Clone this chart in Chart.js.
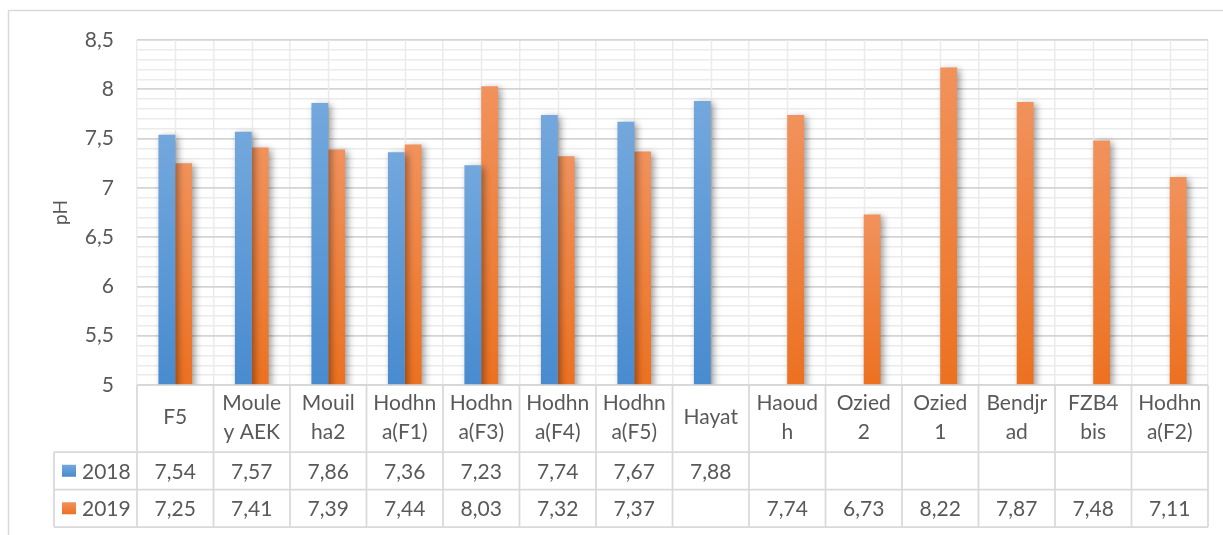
<!DOCTYPE html>
<html>
<head>
<meta charset="utf-8">
<title>pH 2018 / 2019</title>
<script src="https://cdn.jsdelivr.net/npm/chart.js@4/dist/chart.umd.min.js"></script>
<style>
  html, body { margin: 0; padding: 0; background: #ffffff; }
  #wrap { position: relative; width: 1223px; height: 535px; }
</style>
</head>
<body>
<div id="wrap"><canvas id="phChart"></canvas></div>
<script>
// Sampling points
const categories = ['F5', 'Mouley AEK', 'Mouilha2', 'Hodhna(F1)', 'Hodhna(F3)', 'Hodhna(F4)', 'Hodhna(F5)',
                    'Hayat', 'Haoudh', 'Ozied 2', 'Ozied 1', 'Bendjrad', 'FZB4 bis', 'Hodhna(F2)'];
// Wrapped names shown in the header row of the data table
const tickLabels = [['F5'], ['Moule', 'y AEK'], ['Mouil', 'ha2'], ['Hodhn', 'a(F1)'], ['Hodhn', 'a(F3)'],
                    ['Hodhn', 'a(F4)'], ['Hodhn', 'a(F5)'], ['Hayat'], ['Haoud', 'h'], ['Ozied', '2'],
                    ['Ozied', '1'], ['Bendjr', 'ad'], ['FZB4', 'bis'], ['Hodhn', 'a(F2)']];
const seriesNames = ['2018', '2019'];
const ph2018 = [7.54, 7.57, 7.86, 7.36, 7.23, 7.74, 7.67, 7.88, null, null, null, null, null, null];
const ph2019 = [7.25, 7.41, 7.39, 7.44, 8.03, 7.32, 7.37, null, 7.74, 6.73, 8.22, 7.87, 7.48, 7.11];
// Value axis
const yMin = 5, yMax = 8.5, yMajorStep = 0.5, yMinorStep = 0.1;
const yTitle = 'pH';

const FONT = 'Lato, "Open Sans", sans-serif';
const TEXT = '#595959';
const TABLE_FONT_SIZE = 21;
const HEADER_H = 67;
const ROW_H = 37.5;
const LEGEND_COL_W = 83;

const fmt = v => String(Math.round(v * 100) / 100).replace('.', ',');
const isMajor = v => Math.abs(v / yMajorStep - Math.round(v / yMajorStep)) < 1e-6;

// Vertical gradient per bar, lighter at the top
function barFill(topColor, bottomColor) {
  return (ctx) => {
    const chart = ctx.chart;
    const y = chart.scales && chart.scales.y;
    if (ctx.type !== 'data' || !y || ctx.raw == null) return bottomColor;
    const yTop = y.getPixelForValue(ctx.raw);
    const yBase = y.getPixelForValue(y.min);
    if (!isFinite(yTop) || !isFinite(yBase) || yTop === yBase) return bottomColor;
    const g = chart.ctx.createLinearGradient(0, yTop, 0, yBase);
    g.addColorStop(0, topColor);
    g.addColorStop(1, bottomColor);
    return g;
  };
}

const palette = [
  { top: 'rgb(115,168,221)', bottom: 'rgb(72,139,207)' },
  { top: 'rgb(241,146,92)',  bottom: 'rgb(236,113,32)' }
];

const tablePlugin = {
  id: 'dataTable',
  beforeDraw(chart) {
    const c = chart.ctx;
    c.save();
    c.fillStyle = '#ffffff';
    c.fillRect(0, 0, chart.width, chart.height);
    c.strokeStyle = '#d9d9d9';
    c.lineWidth = 1.5;
    c.strokeRect(8.5, 10.5, chart.width + 20, chart.height + 20);
    c.restore();
  },
  beforeDatasetsDraw(chart) {
    const c = chart.ctx, x = chart.scales.x, area = chart.chartArea;
    // light lines through the middle of each category
    c.save();
    c.strokeStyle = '#ebebeb';
    c.lineWidth = 1.5;
    categories.forEach((_, i) => {
      const px = Math.round(x.getPixelForValue(i)) + 0.5;
      c.beginPath();
      c.moveTo(px, area.top);
      c.lineTo(px, area.bottom);
      c.stroke();
    });
    c.restore();
    // soft drop shadow under the bars
    c.save();
    c.shadowColor = 'rgba(0,0,0,0.38)';
    c.shadowBlur = 7;
    c.shadowOffsetX = 3;
    c.shadowOffsetY = 2;
  },
  afterDatasetsDraw(chart) {
    chart.ctx.restore();
  },
  afterDraw(chart) {
    const c = chart.ctx, x = chart.scales.x;
    const top = x.top;
    const r1 = top + HEADER_H, r2 = r1 + ROW_H, r3 = r2 + ROW_H;
    const left = x.left, right = x.right;
    const legendLeft = left - LEGEND_COL_W;
    const n = categories.length;
    const cw = (right - left) / n;

    c.save();
    c.strokeStyle = '#d9d9d9';
    c.lineWidth = 1.75;
    const line = (x1, y1, x2, y2) => { c.beginPath(); c.moveTo(x1, y1); c.lineTo(x2, y2); c.stroke(); };
    line(left, top, right, top);
    [r1, r2, r3].forEach(yy => line(legendLeft, yy, right, yy));
    for (let i = 0; i <= n; i++) line(left + i * cw, top, left + i * cw, r3);
    line(legendLeft, r1, legendLeft, r3);

    // series keys and values
    c.font = TABLE_FONT_SIZE + 'px ' + FONT;
    c.textBaseline = 'middle';
    chart.data.datasets.forEach((ds, k) => {
      const cy = (k === 0 ? r1 : r2) + ROW_H / 2;
      const g = c.createLinearGradient(0, cy - 6, 0, cy + 6);
      g.addColorStop(0, palette[k].top);
      g.addColorStop(1, palette[k].bottom);
      c.fillStyle = g;
      c.fillRect(legendLeft + 8, cy - 6, 14, 12);
      c.fillStyle = TEXT;
      c.textAlign = 'left';
      c.fillText(ds.label, legendLeft + 28, cy + 1);
      c.textAlign = 'center';
      ds.data.forEach((v, i) => {
        if (v == null) return;
        c.fillText(fmt(v), x.getPixelForValue(i), cy + 1);
      });
    });
    c.restore();
  }
};

new Chart(document.getElementById('phChart'), {
  type: 'bar',
  data: {
    labels: tickLabels,
    datasets: [
      { label: seriesNames[0], data: ph2018, backgroundColor: barFill(palette[0].top, palette[0].bottom) },
      { label: seriesNames[1], data: ph2019, backgroundColor: barFill(palette[1].top, palette[1].bottom) }
    ]
  },
  options: {
    responsive: true,
    maintainAspectRatio: false,
    animation: false,
    datasets: { bar: { categoryPercentage: 0.44, barPercentage: 1, borderWidth: 0 } },
    layout: { padding: { left: 40, top: 40, right: 15, bottom: 8 } },
    plugins: { legend: { display: false }, tooltip: { enabled: false } },
    scales: {
      x: {
        offset: true,
        border: { display: false },
        grid: { offset: true, drawTicks: false, color: '#ebebeb', lineWidth: 1.5 },
        ticks: {
          autoSkip: false, maxRotation: 0, minRotation: 0, crossAlign: 'center',
          padding: 18, color: TEXT,
          font: { family: FONT, size: TABLE_FONT_SIZE, lineHeight: 1.4 }
        },
        afterFit(scale) {
          scale.height = HEADER_H + 2 * ROW_H;
          scale.paddingLeft = 0;
          scale.paddingRight = 0;
        }
      },
      y: {
        min: yMin,
        max: yMax,
        border: { display: false },
        grid: {
          drawTicks: false,
          color: ctx => isMajor(ctx.tick.value) ? '#d4d4d4' : '#ebebeb',
          lineWidth: ctx => isMajor(ctx.tick.value) ? 1.7 : 1.5
        },
        ticks: {
          stepSize: yMinorStep, autoSkip: false, padding: 23, color: TEXT,
          font: { family: FONT, size: 21 },
          callback: v => isMajor(v) ? fmt(v) : ''
        },
        title: {
          display: true, text: yTitle, color: TEXT,
          font: { family: FONT, size: 19 }, padding: { top: 9, bottom: 0 }
        },
        afterFit(scale) { scale.width = 97; }
      }
    }
  },
  plugins: [tablePlugin]
});
</script>
</body>
</html>
